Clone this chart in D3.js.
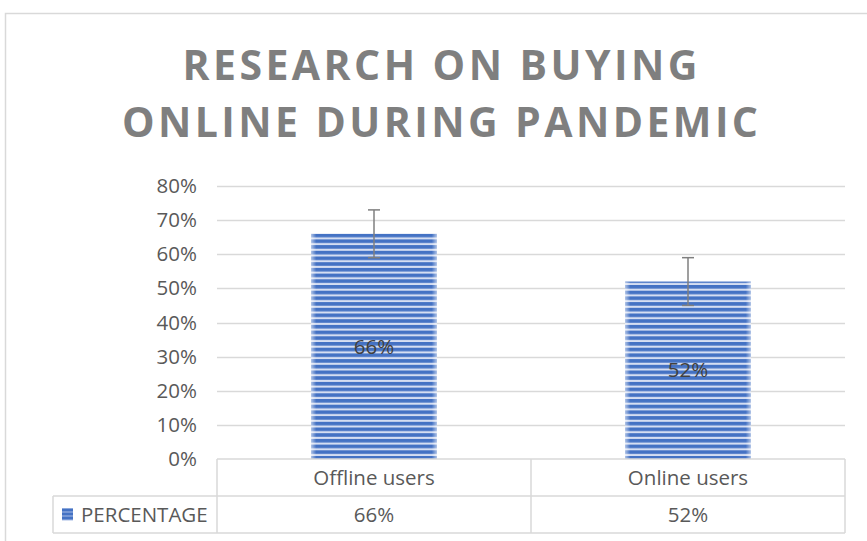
<!DOCTYPE html>
<html>
<head>
<meta charset="utf-8">
<script src="https://cdn.jsdelivr.net/npm/d3@7"></script>
<style>
  html, body { margin: 0; padding: 0; background: #fff; }
  svg { display: block; font-family: "Open Sans", "Liberation Sans", sans-serif; }
</style>
</head>
<body>
<div id="chart"></div>
<script>
// data
const categories = ["Offline users", "Online users"];
const percentValues = [0.66, 0.52];
const errorAmounts = [0.07, 0.07];
const seriesName = "PERCENTAGE";
const titleLines = ["RESEARCH ON BUYING", "ONLINE DURING PANDEMIC"];
const yTicks = [0, 0.1, 0.2, 0.3, 0.4, 0.5, 0.6, 0.7, 0.8];

const width = 867, height = 541;
const plotLeft = 217, plotRight = 845, plotTop = 186, plotBottom = 459;
const rowH = 37;
const fontSize = 20.5;

const svg = d3.select("#chart").append("svg")
    .attr("width", width)
    .attr("height", height);

const defs = svg.append("defs");

// striped fill like the original
const pat = defs.append("pattern")
    .attr("id", "stripes")
    .attr("patternUnits", "userSpaceOnUse")
    .attr("width", 10)
    .attr("height", 5.7);
pat.append("rect").attr("width", 10).attr("height", 5.7).attr("fill", "#d5def2");
pat.append("rect").attr("width", 10).attr("height", 3.6).attr("fill", "#4472c4");

const edge = defs.append("linearGradient").attr("id", "edgeGlow");
edge.append("stop").attr("offset", "0%").attr("stop-color", "#fff").attr("stop-opacity", 0.55);
edge.append("stop").attr("offset", "4%").attr("stop-color", "#fff").attr("stop-opacity", 0);
edge.append("stop").attr("offset", "96%").attr("stop-color", "#fff").attr("stop-opacity", 0);
edge.append("stop").attr("offset", "100%").attr("stop-color", "#fff").attr("stop-opacity", 0.55);

// chart border (only top and left visible)
svg.append("path")
    .attr("d", `M5.5,${height + 5} V13.5 H${width + 5}`)
    .attr("fill", "none")
    .attr("stroke", "#d9d9d9")
    .attr("stroke-width", 1.5);

// title
const titleWidths = [515, 636];
svg.append("g").selectAll("text")
    .data(titleLines)
    .join("text")
    .attr("x", (d, i) => 440 - titleWidths[i] / 2)
    .attr("y", (d, i) => 80 + i * 57)
    .attr("textLength", (d, i) => titleWidths[i])
    .attr("lengthAdjust", "spacing")
    .attr("fill", "#7f7f7f")
    .attr("font-weight", "bold")
    .attr("font-size", 41)
    .text(d => d);

// scales
const x = d3.scaleBand()
    .domain(categories)
    .range([plotLeft, plotRight])
    .paddingInner(0.6)
    .paddingOuter(0.3);

const y = d3.scaleLinear()
    .domain([0, 0.8])
    .range([plotBottom, plotTop]);

// gridlines
svg.append("g").selectAll("line")
    .data(yTicks.filter(d => d > 0))
    .join("line")
    .attr("x1", plotLeft)
    .attr("x2", plotRight)
    .attr("y1", d => Math.round(y(d)) + 0.5)
    .attr("y2", d => Math.round(y(d)) + 0.5)
    .attr("stroke", "#d9d9d9")
    .attr("stroke-width", 1.5);

// y axis labels
const yAxis = d3.axisLeft(y)
    .tickValues(yTicks)
    .tickFormat(d3.format(".0%"))
    .tickSize(0)
    .tickPadding(20);
const yg = svg.append("g")
    .attr("transform", `translate(${plotLeft},0)`)
    .call(yAxis);
yg.select(".domain").remove();
yg.selectAll("text")
    .attr("fill", "#595959")
    .attr("font-size", fontSize)
    .attr("font-family", "'Open Sans', sans-serif");

// bars
const bars = svg.append("g").selectAll("g")
    .data(categories.map((c, i) => ({ cat: c, v: percentValues[i], e: errorAmounts[i] })))
    .join("g");

bars.append("rect")
    .attr("x", d => x(d.cat))
    .attr("y", d => y(d.v))
    .attr("width", x.bandwidth())
    .attr("height", d => y(0) - y(d.v))
    .attr("fill", "url(#stripes)");
bars.append("rect")
    .attr("x", d => x(d.cat))
    .attr("y", d => y(d.v))
    .attr("width", x.bandwidth())
    .attr("height", d => y(0) - y(d.v))
    .attr("fill", "url(#edgeGlow)");

// error bars
const cx = d => x(d.cat) + x.bandwidth() / 2;
bars.append("line")
    .attr("x1", cx).attr("x2", cx)
    .attr("y1", d => y(d.v + d.e))
    .attr("y2", d => y(d.v - d.e))
    .attr("stroke", "#7f7f7f").attr("stroke-width", 1.5);
bars.selectAll(".cap")
    .data(d => [d.v + d.e, d.v - d.e].map(t => ({ c: cx(d), t })))
    .join("line")
    .attr("class", "cap")
    .attr("x1", d => d.c - 6).attr("x2", d => d.c + 6)
    .attr("y1", d => y(d.t)).attr("y2", d => y(d.t))
    .attr("stroke", "#7f7f7f").attr("stroke-width", 1.5);

// data labels
bars.append("text")
    .attr("x", cx)
    .attr("y", d => (y(d.v) + y(0)) / 2)
    .attr("dy", "0.35em")
    .attr("text-anchor", "middle")
    .attr("fill", "#404040")
    .attr("font-size", fontSize)
    .text(d => d3.format(".0%")(d.v));

// data table
const table = svg.append("g")
    .attr("fill", "none")
    .attr("stroke", "#d9d9d9")
    .attr("stroke-width", 1.5);
table.append("line").attr("x1", plotLeft).attr("x2", plotRight).attr("y1", plotBottom).attr("y2", plotBottom);
table.append("line").attr("x1", 53).attr("x2", plotRight).attr("y1", plotBottom + rowH).attr("y2", plotBottom + rowH);
table.append("line").attr("x1", 53).attr("x2", plotRight).attr("y1", plotBottom + 2 * rowH).attr("y2", plotBottom + 2 * rowH);
table.append("line").attr("x1", 53).attr("x2", 53).attr("y1", plotBottom + rowH).attr("y2", plotBottom + 2 * rowH);
const vLines = [plotLeft].concat(categories.map(c => x(c) + x.bandwidth() / 2 + x.step() / 2));
table.selectAll(".v")
    .data(vLines)
    .join("line")
    .attr("class", "v")
    .attr("x1", d => d).attr("x2", d => d)
    .attr("y1", plotBottom).attr("y2", plotBottom + 2 * rowH);

const tText = svg.append("g")
    .attr("fill", "#595959")
    .attr("font-size", fontSize)
    .attr("text-anchor", "middle");
tText.selectAll(".cat")
    .data(categories)
    .join("text")
    .attr("class", "cat")
    .attr("x", d => x(d) + x.bandwidth() / 2)
    .attr("y", plotBottom + rowH / 2)
    .attr("dy", "0.35em")
    .text(d => d);
tText.selectAll(".val")
    .data(percentValues.map((v, i) => ({ v, c: categories[i] })))
    .join("text")
    .attr("class", "val")
    .attr("x", d => x(d.c) + x.bandwidth() / 2)
    .attr("y", plotBottom + rowH * 1.5)
    .attr("dy", "0.35em")
    .text(d => d3.format(".0%")(d.v));

// legend key in the table
const keyY = plotBottom + rowH * 1.5;
svg.append("rect")
    .attr("x", 62).attr("y", keyY - 6)
    .attr("width", 11).attr("height", 12)
    .attr("fill", "#a9bde6");
[0, 1, 2].forEach(k => {
    svg.append("rect")
        .attr("x", 62).attr("y", keyY - 6 + k * 4)
        .attr("width", 11).attr("height", 3)
        .attr("fill", "#4472c4");
});
svg.append("text")
    .attr("x", 81)
    .attr("y", keyY)
    .attr("dy", "0.35em")
    .attr("fill", "#595959")
    .attr("font-size", fontSize)
    .text(seriesName);
</script>
</body>
</html>
